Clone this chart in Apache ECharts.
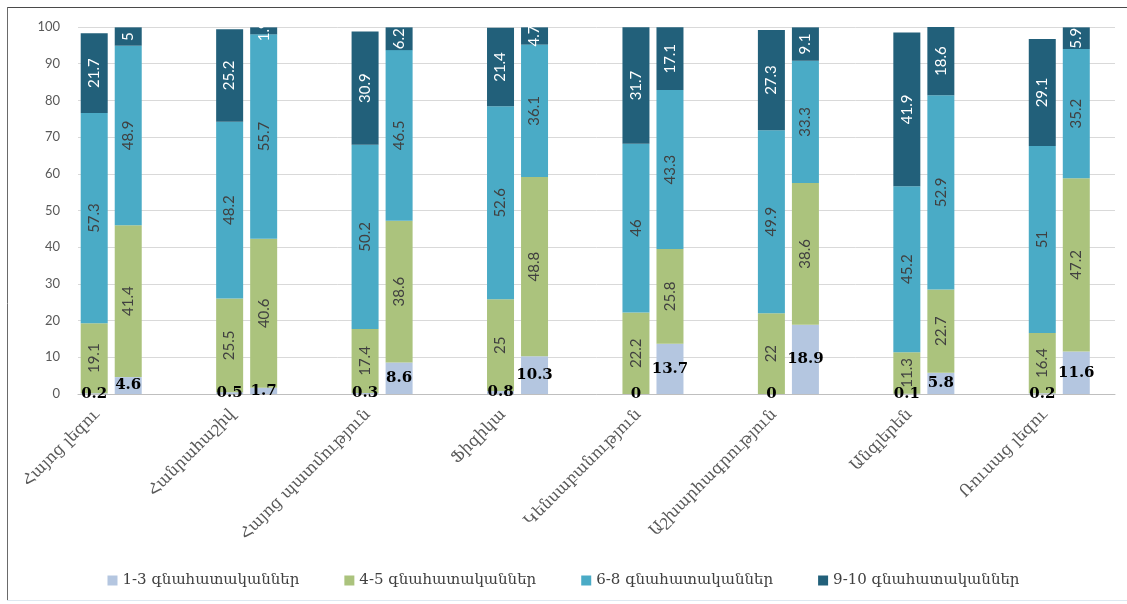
<!DOCTYPE html>
<html>
<head>
<meta charset="utf-8">
<script src="https://cdn.jsdelivr.net/npm/echarts@6/dist/echarts.min.js"></script>
<style>
html,body{margin:0;padding:0;background:#fff;}
#chart{width:1127px;height:604px;}
</style>
</head>
<body>
<div id="chart"></div>
<script>
var categories = ["Հայոց լեզու", "Հանրահաշիվ", "Հայոց պատմություն", "Ֆիզիկա", "Կենսաբանություն", "Աշխարհագրություն", "Անգլերեն", "Ռուսաց լեզու"];
var seriesNames = ["1-3 գնահատականներ", "4-5 գնահատականներ", "6-8 գնահատականներ", "9-10 գնահատականներ"];
var yTicks = [0, 10, 20, 30, 40, 50, 60, 70, 80, 90, 100];
// left bar of each pair
var a13 = [0.2, 0.5, 0.3, 0.8, 0, 0, 0.1, 0.2];
var a45 = [19.1, 25.5, 17.4, 25, 22.2, 22, 11.3, 16.4];
var a68 = [57.3, 48.2, 50.2, 52.6, 46, 49.9, 45.2, 51];
var a910 = [21.7, 25.2, 30.9, 21.4, 31.7, 27.3, 41.9, 29.1];
// right bar of each pair
var b13 = [4.6, 1.7, 8.6, 10.3, 13.7, 18.9, 5.8, 11.6];
var b45 = [41.4, 40.6, 38.6, 48.8, 25.8, 38.6, 22.7, 47.2];
var b68 = [48.9, 55.7, 46.5, 36.1, 43.3, 33.3, 52.9, 35.2];
var b910 = [5, 1.9, 6.2, 4.7, 17.1, 9.1, 18.6, 5.9];

var colors = ["#b4c6e0", "#abc37d", "#4aabc6", "#22607a"];

var chart = echarts.init(document.getElementById('chart'), null, {renderer: 'canvas'});

function lowLabel() {
  return {show: true, position: 'inside', color: '#000', fontFamily: 'DejaVu Serif', fontWeight: 'bold', fontSize: 15};
}
function rotLabel(col) {
  return {show: true, position: 'inside', rotate: 90, color: col, fontFamily: 'Lato', fontSize: 15};
}
function mk(name, stack, data, idx, label) {
  return {
    name: name, type: 'bar', stack: stack, data: data,
    xAxisIndex: 1, yAxisIndex: 1,
    barWidth: 27, barGap: '26%',
    itemStyle: {color: colors[idx]},
    label: label,
    emphasis: {disabled: true}
  };
}

var option = {
  backgroundColor: '#ffffff',
  animation: false,
  color: colors,
  grid: [
    {left: 78, right: 12, top: 27, bottom: 210},
    {left: 43.5, width: 1105, top: 27, bottom: 210}
  ],
  legend: {
    data: seriesNames,
    top: 568, left: 'center',
    itemWidth: 10, itemHeight: 10, itemGap: 45,
    icon: 'rect',
    textStyle: {fontFamily: 'DejaVu Serif', fontSize: 15, color: '#404040'}
  },
  xAxis: [
    {gridIndex: 0, type: 'value', min: 0, max: 1, show: true,
     axisLine: {show: true, onZero: false, lineStyle: {color: '#bfbfbf', width: 1}},
     axisTick: {show: false}, axisLabel: {show: false}, splitLine: {show: false}},
    {gridIndex: 1, type: 'category', data: categories,
     axisLine: {show: false}, axisTick: {show: false}, splitLine: {show: false},
     axisLabel: {rotate: 45, interval: 0, margin: 4, padding: [0, 20, 0, 0],
                 fontFamily: 'DejaVu Serif', fontSize: 16, color: '#595959'}}
  ],
  yAxis: [
    {gridIndex: 0, type: 'value', min: yTicks[0], max: yTicks[yTicks.length - 1], interval: 10,
     axisLine: {show: false}, axisTick: {show: false},
     axisLabel: {margin: 18, fontFamily: 'Lato', fontSize: 13, color: '#595959'},
     splitLine: {show: true, lineStyle: {color: '#d9d9d9', width: 1}}},
    {gridIndex: 1, type: 'value', min: 0, max: 100, show: false}
  ],
  graphic: [
    {type: 'line', shape: {x1: 7, y1: 7.5, x2: 1127, y2: 7.5}, style: {stroke: '#4a4a4a', lineWidth: 1}},
    {type: 'line', shape: {x1: 7.5, y1: 7, x2: 7.5, y2: 600}, style: {stroke: '#6a6a6a', lineWidth: 1}},
    {type: 'line', shape: {x1: 7, y1: 600.5, x2: 1127, y2: 600.5}, style: {stroke: '#dde8f0', lineWidth: 1}}
  ],
  series: [
    mk(seriesNames[0], 'A', a13, 0, lowLabel()),
    mk(seriesNames[1], 'A', a45, 1, rotLabel('#404040')),
    mk(seriesNames[2], 'A', a68, 2, rotLabel('#404040')),
    mk(seriesNames[3], 'A', a910, 3, rotLabel('#ffffff')),
    mk(seriesNames[0], 'B', b13, 0, lowLabel()),
    mk(seriesNames[1], 'B', b45, 1, rotLabel('#404040')),
    mk(seriesNames[2], 'B', b68, 2, rotLabel('#404040')),
    mk(seriesNames[3], 'B', b910, 3, rotLabel('#ffffff'))
  ]
};
chart.setOption(option);
</script>
</body>
</html>
